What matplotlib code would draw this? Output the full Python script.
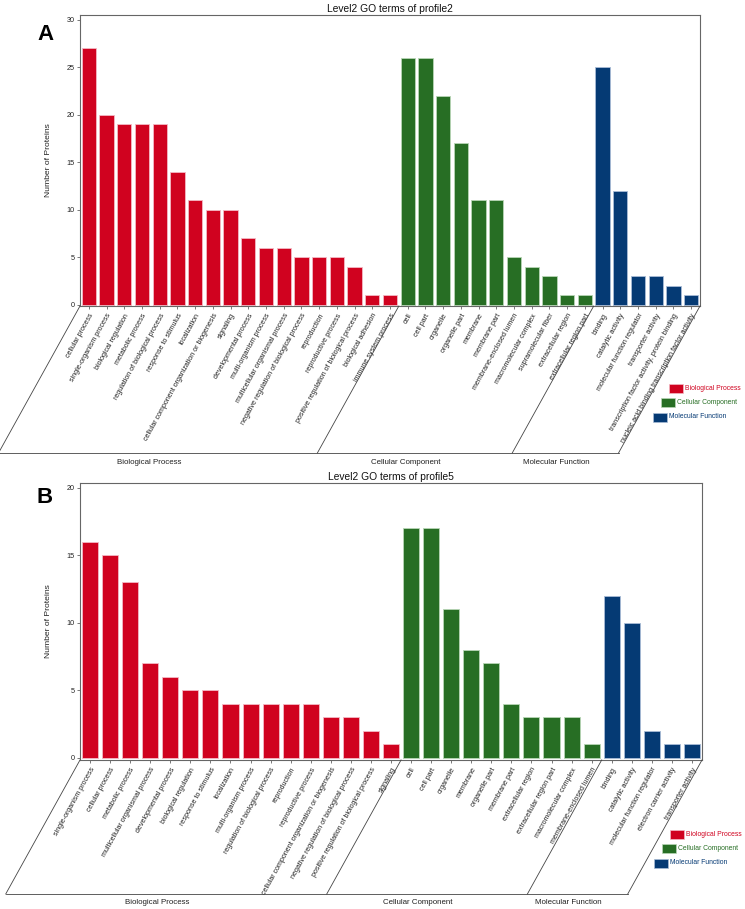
import matplotlib
matplotlib.use("Agg")
import matplotlib.pyplot as plt
from matplotlib.lines import Line2D
from matplotlib.patches import Rectangle
import numpy as np

plt.rcParams["font.family"] = ["Liberation Sans", "DejaVu Sans"]

# ---------------------------------------------------------------------------
# Data
# ---------------------------------------------------------------------------

GROUPS = ["Biological Process", "Cellular Component", "Molecular Function"]
GROUP_COLOURS = ["#d0021f", "#276e24", "#053a74"]
GROUP_EDGES = ["#f3b9c4", "#b8d6b5", "#a9bcd6"]

# profile2
a_bp_terms = [
    "cellular process", "single-organism process", "biological regulation",
    "metabolic process", "regulation of biological process", "response to stimulus",
    "localization", "cellular component organization or biogenesis", "signaling",
    "developmental process", "multi-organism process", "multicellular organismal process",
    "negative regulation of biological process", "reproduction", "reproductive process",
    "positive regulation of biological process", "biological adhesion",
    "immune system process",
]
a_bp_counts = [27, 20, 19, 19, 19, 14, 11, 10, 10, 7, 6, 6, 5, 5, 5, 4, 1, 1]

a_cc_terms = [
    "cell", "cell part", "organelle", "organelle part", "membrane", "membrane part",
    "membrane-enclosed lumen", "macromolecular complex", "supramolecular fiber",
    "extracellular region", "extracellular region part",
]
a_cc_counts = [26, 26, 22, 17, 11, 11, 5, 4, 3, 1, 1]

a_mf_terms = [
    "binding", "catalytic activity", "molecular function regulator",
    "transporter activity", "transcription factor activity, protein binding",
    "nucleic acid binding transcription factor activity",
]
a_mf_counts = [25, 12, 3, 3, 2, 1]

# profile5
b_bp_terms = [
    "single-organism process", "cellular process", "metabolic process",
    "multicellular organismal process", "developmental process", "biological regulation",
    "response to stimulus", "localization", "multi-organism process",
    "regulation of biological process", "reproduction", "reproductive process",
    "cellular component organization or biogenesis",
    "negative regulation of biological process",
    "positive regulation of biological process", "signaling",
]
b_bp_counts = [16, 15, 13, 7, 6, 5, 5, 4, 4, 4, 4, 4, 3, 3, 2, 1]

b_cc_terms = [
    "cell", "cell part", "organelle", "membrane", "organelle part", "membrane part",
    "extracellular region", "extracellular region part", "macromolecular complex",
    "membrane-enclosed lumen",
]
b_cc_counts = [17, 17, 11, 8, 7, 4, 3, 3, 3, 1]

b_mf_terms = [
    "binding", "catalytic activity", "molecular function regulator",
    "electron carrier activity", "transporter activity",
]
b_mf_counts = [12, 10, 2, 1, 1]

# ---------------------------------------------------------------------------
# Layout helpers (pixel coordinates, origin top-left)
# ---------------------------------------------------------------------------

FIG_W, FIG_H = 745, 909
SLANT_DEG = 61


def fig_xy(x, y):
    return x / FIG_W, 1 - y / FIG_H


def draw_panel(fig, rect, title, letter, letter_y, terms, counts, ymax, yticks,
               drop, legend_xy):
    left, top, right, bottom = rect
    ax = fig.add_axes([left / FIG_W, 1 - bottom / FIG_H,
                       (right - left) / FIG_W, (bottom - top) / FIG_H])

    all_terms, all_counts, colours, edges, sizes = [], [], [], [], []
    for g, (t, c) in enumerate(zip(terms, counts)):
        all_terms += t
        all_counts += c
        colours += [GROUP_COLOURS[g]] * len(t)
        edges += [GROUP_EDGES[g]] * len(t)
        sizes.append(len(t))

    x = np.arange(len(all_terms))
    ax.bar(x, all_counts, width=0.8, color=colours, edgecolor=edges,
           linewidth=0.6, zorder=2)
    ax.set_xlim(-0.5, len(all_terms) - 0.5)
    ax.set_ylim(-0.15, ymax)
    ax.set_yticks(yticks)
    ax.set_xticks(x)
    ax.set_xticklabels(all_terms, rotation=SLANT_DEG, ha="right",
                       rotation_mode="anchor", fontsize=5.15, color="#222222")
    ax.tick_params(axis="x", length=2.5, width=0.5, pad=2, color="#444444")
    ax.tick_params(axis="y", length=2.5, width=0.5, pad=1.5, labelsize=5.2,
                   color="#444444", labelcolor="#222222")
    for sp in ax.spines.values():
        sp.set_color("#666666")
        sp.set_linewidth(0.8)

    ax.set_title(title, fontsize=7.4, pad=2.5, color="#111111")
    ax.set_ylabel("Number of Proteins", fontsize=6.1, color="#222222")
    ax.yaxis.set_label_coords(-(left - 52) / (right - left), 0.5)

    fig.text(*fig_xy(45, letter_y), letter, fontsize=16, fontweight="bold",
             ha="center", va="center")

    # slanted group separators and baseline
    bounds = np.concatenate([[0], np.cumsum(sizes)]) - 0.5
    dx = drop / np.tan(np.radians(SLANT_DEG))
    y0 = ax.get_ylim()[0]
    bottoms = []
    for b in bounds:
        disp = ax.transData.transform((b, y0))
        px, py = disp[0], FIG_H - disp[1]
        bx, by = px - dx, py + drop
        bottoms.append((bx, by))
        fig.add_artist(Line2D([px / FIG_W, bx / FIG_W],
                              [1 - py / FIG_H, 1 - by / FIG_H],
                              transform=fig.transFigure, color="#444444",
                              linewidth=0.6))
    fig.add_artist(Line2D([bottoms[0][0] / FIG_W, bottoms[-1][0] / FIG_W],
                          [1 - bottoms[0][1] / FIG_H, 1 - bottoms[-1][1] / FIG_H],
                          transform=fig.transFigure, color="#444444",
                          linewidth=0.6))
    for g, name in enumerate(GROUPS):
        mid = (bottoms[g][0] + bottoms[g + 1][0]) / 2 - 9
        fig.text(*fig_xy(mid, bottoms[g][1] + 9), name, fontsize=5.7,
                 ha="center", va="center", color="#222222")

    # legend
    lx, ly = legend_xy
    for g, name in enumerate(GROUPS):
        px0 = lx - 8 * g
        py0 = ly + 14.5 * g
        fx, fy = fig_xy(px0, py0 + 4.5)
        fig.add_artist(Rectangle((fx, fy), 14 / FIG_W, 9 / FIG_H,
                                 transform=fig.transFigure,
                                 facecolor=GROUP_COLOURS[g],
                                 edgecolor=GROUP_EDGES[g], linewidth=0.5))
        fig.text(*fig_xy(px0 + 16, py0), name, fontsize=4.85, ha="left",
                 va="center", color=GROUP_COLOURS[g])
    return ax


fig = plt.figure(figsize=(FIG_W / 100, FIG_H / 100), dpi=100)

draw_panel(fig, (80, 15, 700, 306), "Level2 GO terms of profile2", "A", 35,
           [a_bp_terms, a_cc_terms, a_mf_terms],
           [a_bp_counts, a_cc_counts, a_mf_counts],
           30.5, [0, 5, 10, 15, 20, 25, 30], 147, (669, 388))

draw_panel(fig, (80, 483, 702, 760), "Level2 GO terms of profile5", "B", 498,
           [b_bp_terms, b_cc_terms, b_mf_terms],
           [b_bp_counts, b_cc_counts, b_mf_counts],
           20.35, [0, 5, 10, 15, 20], 134, (670, 834))

fig.savefig("out.png", dpi=100, facecolor="white")
